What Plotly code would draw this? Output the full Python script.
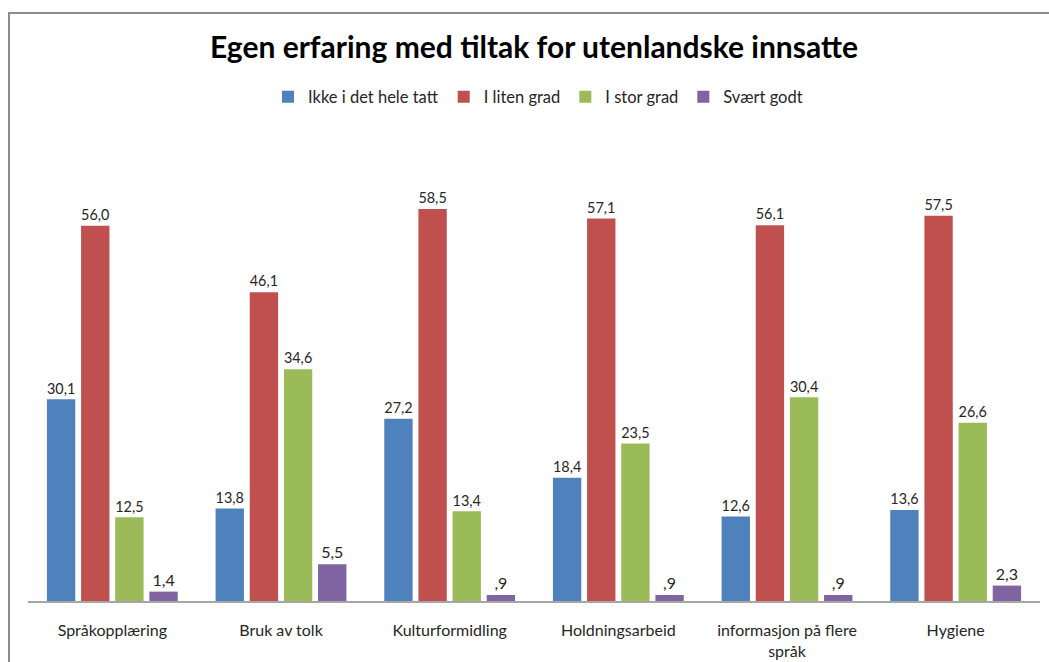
import plotly.graph_objects as go

categories = ["Språkopplæring", "Bruk av tolk", "Kulturformidling", "Holdningsarbeid",
              "informasjon på flere<br>språk", "Hygiene"]
series_names = ["Ikke i det hele tatt", "I liten grad", "I stor grad", "Svært godt"]
ikke = [30.1, 13.8, 27.2, 18.4, 12.6, 13.6]
liten = [56.0, 46.1, 58.5, 57.1, 56.1, 57.5]
stor = [12.5, 34.6, 13.4, 23.5, 30.4, 26.6]
svaert = [1.4, 5.5, 0.9, 0.9, 0.9, 2.3]
colors = ["#4F81BD", "#C0504D", "#9BBB59", "#8064A2"]

def fmt(v):
    s = f"{v:.1f}".replace(".", ",")
    if s.startswith("0,"):
        s = s[1:]
    return s

W, H = 1049, 662
ml, mr, mt, mb = 28, 9, 132, 61
pw = W - ml - mr
ph = H - mt - mb

font = "Lato, Carlito, sans-serif"
fig = go.Figure()
for name, vals, col in zip(series_names, [ikke, liten, stor, svaert], colors):
    fig.add_trace(go.Bar(
        x=categories, y=vals, name=name, marker_color=col, marker_line_width=0,
        text=[fmt(v) for v in vals], textposition="outside",
        textfont=dict(family=font, size=16, color="#262626"),
        cliponaxis=False,
    ))

fig.update_layout(
    width=W, height=H,
    margin=dict(l=ml, r=mr, t=mt, b=mb),
    paper_bgcolor="white", plot_bgcolor="white",
    barmode="group", bargap=0.19, bargroupgap=0.17,
    title=dict(text="<b>Egen erfaring med tiltak for utenlandske innsatte</b>",
               x=534 / W, xanchor="center", y=1 - 47 / H, yanchor="middle",
               font=dict(family=font, size=30, color="black")),
    legend=dict(orientation="h", x=(538 - ml) / pw, xanchor="center",
                y=1 + (mt - 97) / ph, yanchor="middle",
                font=dict(family=font, size=16.5, color="#262626"),
                itemwidth=30, traceorder="normal"),
    showlegend=True,
)
fig.update_yaxes(range=[0, 70], visible=False, showgrid=False, automargin=False)
fig.update_xaxes(showline=True, linecolor="#A6A6A6", linewidth=1.5,
                 ticks="outside", ticklen=14, tickcolor="rgba(0,0,0,0)",
                 tickfont=dict(family=font, size=16, color="#262626"),
                 showgrid=False, automargin=False)
fig.add_shape(type="rect", xref="paper", yref="paper",
              x0=(9 - ml) / pw, x1=1.1, y0=-0.3, y1=(H - mb - 13) / ph,
              line=dict(color="#8C8C8C", width=2), fillcolor="rgba(0,0,0,0)",
              layer="above")
fig.write_html("out.html", config={"displayModeBar": False},
               post_script="document.body.style.margin='0';document.body.style.overflow='hidden';")
